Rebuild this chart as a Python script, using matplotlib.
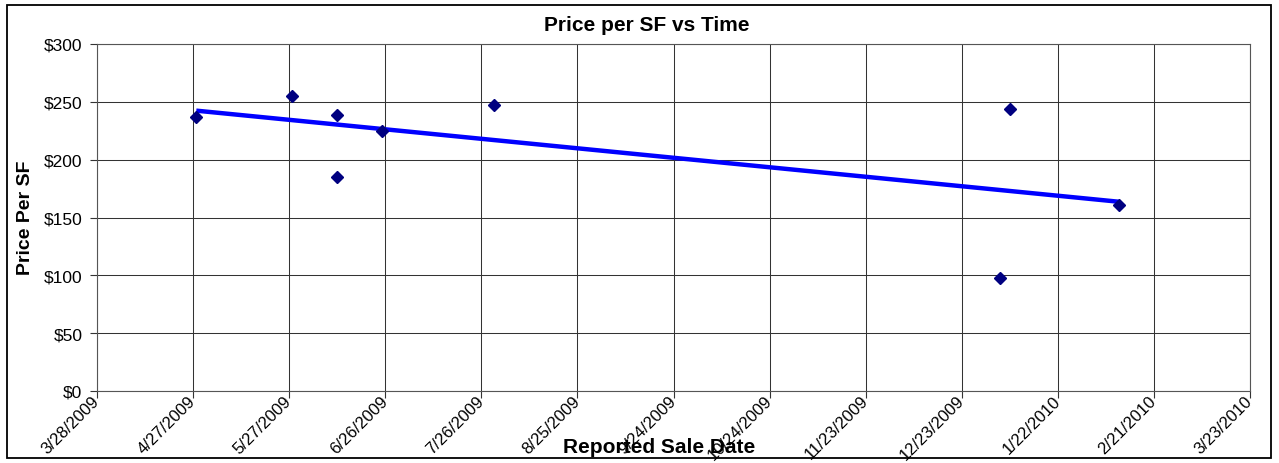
import numpy as np
import pandas as pd
import matplotlib
matplotlib.use("Agg")
import matplotlib.pyplot as plt
import matplotlib.dates as mdates
import matplotlib.transforms as mtransforms
from matplotlib.patches import Rectangle

plt.rcParams['font.family'] = ['Liberation Sans', 'DejaVu Sans']

# Sale data
sale_dates = ['2009-04-28', '2009-05-28', '2009-06-11', '2009-06-11', '2009-06-25',
              '2009-07-30', '2010-01-07', '2010-01-04', '2010-02-10']
price_sf = [237, 255, 239, 185, 225, 247, 244, 98, 161]

# Axis setup
x_start = '2009-03-28'
x_end = '2010-03-23'
tick_step_days = 30
y_ticks = [0, 50, 100, 150, 200, 250, 300]

dates = pd.to_datetime(sale_dates)
xnum = mdates.date2num(dates)

W, H = 1279, 464
fig = plt.figure(figsize=(W / 100, H / 100), dpi=100)
# plot area: x 97..1250, y 45..392 (pixels)
ax = fig.add_axes([97 / W, 1 - 392 / H, (1250 - 97) / W, (392 - 45) / H])

# gridlines
ax.grid(True, color='#333333', linewidth=0.75)
ax.set_axisbelow(True)

# linear trend (Excel style), spans the data range
coef = np.polyfit(xnum, price_sf, 1)
tx = np.array([xnum.min(), xnum.max()])
ax.plot(mdates.num2date(tx), np.polyval(coef, tx), color='#0000FF', linewidth=3.2,
        solid_capstyle='butt', zorder=2)

ax.plot(dates, price_sf, linestyle='none', marker='D', markersize=6.5,
        color='#000080', zorder=3)

ticks = pd.date_range(x_start, x_end, freq=f'{tick_step_days}D')
ax.set_xlim(mdates.date2num(pd.Timestamp(x_start)), mdates.date2num(pd.Timestamp(x_end)))
ax.set_xticks(ticks)
ax.set_xticklabels([f'{d.month}/{d.day}/{d.year}' for d in ticks],
                   rotation=45, ha='right', va='center', rotation_mode='anchor', fontsize=12)
# nudge the date labels a little left/up, like Excel places them
shift = mtransforms.ScaledTranslation(-7 / 100, 2 / 100, fig.dpi_scale_trans)
for lbl in ax.get_xticklabels():
    lbl.set_transform(lbl.get_transform() + shift)

ax.set_ylim(0, 300)
ax.set_yticks(y_ticks)
ax.set_yticklabels([f'${v}' for v in y_ticks], fontsize=12.5)
ax.tick_params(axis='both', direction='out', length=5, width=0.8, color='#333333')
ax.tick_params(axis='x', pad=0)
ax.tick_params(axis='y', pad=5.5)

for s in ax.spines.values():
    s.set_color('#555555')
    s.set_linewidth(0.8)

fig.text(647 / W, 1 - 31 / H, 'Price per SF vs Time', fontsize=15, fontweight='bold',
         ha='center', va='baseline')
fig.text(26 / W, 1 - 218 / H, 'Price Per SF', fontsize=14, fontweight='bold',
         ha='center', va='center', rotation=90)
fig.text(659 / W, 1 - 453 / H, 'Reported Sale Date', fontsize=15, fontweight='bold',
         ha='center', va='baseline')

# chart area border
fig.patches.append(Rectangle((7 / W, 1 - 459 / H), (1271 - 7) / W, (459 - 6) / H,
                             transform=fig.transFigure, fill=False,
                             edgecolor='black', linewidth=1.3))

fig.savefig('out.png', dpi=100)
